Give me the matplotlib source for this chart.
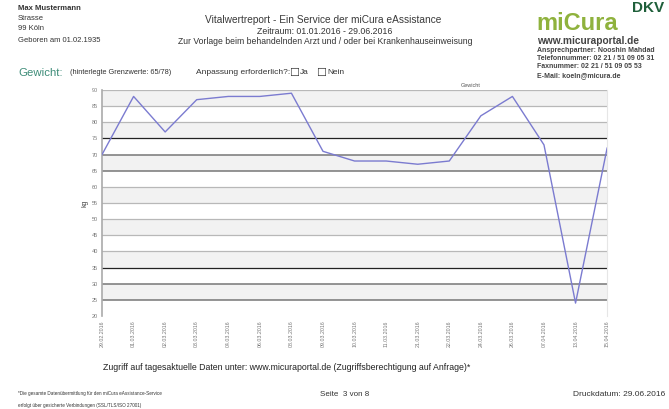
import matplotlib.pyplot as plt

plt.rcParams['font.family'] = ['Liberation Sans', 'DejaVu Sans']

# data
dates = ['29.02.2016', '01.03.2016', '02.03.2016', '03.03.2016', '04.03.2016',
         '06.03.2016', '08.03.2016', '09.03.2016', '10.03.2016', '11.03.2016',
         '21.03.2016', '22.03.2016', '24.03.2016', '26.03.2016', '07.04.2016',
         '13.04.2016', '15.04.2016']
weight = [70, 88, 77, 87, 88, 88, 89, 71, 68, 68, 67, 68, 82, 88, 73, 24, 72]
y_ticks = list(range(20, 91, 5))
dark_lines = [75, 35]
mid_lines = [70, 65, 30, 25]

fig = plt.figure(figsize=(6.69, 4.09), dpi=100)
ax = fig.add_axes([0.1525, 0.2274, 0.755, 0.5526])

# header, left
grey = '#333333'
fig.text(18 / 669, 1 - 8 / 409, 'Max Mustermann', fontsize=5.5, weight='bold', color=grey, va='center')
fig.text(18 / 669, 1 - 19 / 409, 'Strasse', fontsize=5.5, color=grey, va='center')
fig.text(18 / 669, 1 - 29 / 409, '99 Köln', fontsize=5.5, color=grey, va='center')
fig.text(18 / 669, 1 - 40 / 409, 'Geboren am 01.02.1935', fontsize=5.5, color=grey, va='center')

# header, centre
fig.text(323 / 669, 1 - 20 / 409, 'Vitalwertreport - Ein Service der miCura eAssistance',
         fontsize=7.3, color='#3a3a3a', ha='center', va='center')
fig.text(325 / 669, 1 - 31 / 409, 'Zeitraum: 01.01.2016 - 29.06.2016',
         fontsize=6.3, color=grey, ha='center', va='center')
fig.text(325 / 669, 1 - 42 / 409,
         'Zur Vorlage beim behandelnden Arzt und / oder bei Krankenhauseinweisung',
         fontsize=6.2, color=grey, ha='center', va='center')

# header, right (logo + contact)
fig.text(664 / 669, 1 - 8 / 409, 'DKV', fontsize=11, weight='bold', color='#1f5f3a',
         ha='right', va='center')
fig.text(536 / 669, 1 - 24 / 409, 'miCura', fontsize=17, weight='bold', color='#8fb23d', va='center')
fig.text(537 / 669, 1 - 41 / 409, 'www.micuraportal.de', fontsize=7.3, weight='bold',
         color='#444444', va='center')
contact = ['Ansprechpartner: Nooshin Mahdad', 'Telefonnummer: 02 21 / 51 09 05 31',
           'Faxnummer: 02 21 / 51 09 05 53', 'E-Mail: koeln@micura.de']
for i, line in enumerate(contact):
    fig.text(537 / 669, 1 - (50 + i * 8.5) / 409, line, fontsize=5, weight='bold',
             color='#444444', va='center')

# section line
fig.text(18 / 669, 1 - 73 / 409, 'Gewicht:', fontsize=8.2, color='#3d8c78', va='center')
fig.text(70 / 669, 1 - 73 / 409, '(hinterlegte Grenzwerte: 65/78)', fontsize=5.3,
         color=grey, va='center')
fig.text(196 / 669, 1 - 73 / 409, 'Anpassung erforderlich?:', fontsize=6,
         color=grey, va='center')
fig.text(289 / 669, 1 - 73 / 409, '\u2610', fontsize=8, color=grey, va='center',
         family=['DejaVu Sans'])
fig.text(300 / 669, 1 - 73 / 409, 'Ja', fontsize=6, color=grey, va='center')
fig.text(316 / 669, 1 - 73 / 409, '\u2610', fontsize=8, color=grey, va='center',
         family=['DejaVu Sans'])
fig.text(327 / 669, 1 - 73 / 409, 'Nein', fontsize=6, color=grey, va='center')

# chart
x = list(range(len(weight)))
for i, lo in enumerate(range(20, 90, 5)):
    if i % 2 == 1:
        ax.axhspan(lo, lo + 5, color='#f2f2f2', lw=0, zorder=0)
for v in y_ticks:
    if v in dark_lines:
        c, lw = '#222222', 0.9
    elif v in mid_lines:
        c, lw = '#777777', 1.1
    else:
        c, lw = '#b8b8b8', 0.9
    if v != 20:
        ax.axhline(v, color=c, lw=lw, zorder=1)
ax.plot(x, weight, color='#7b7bd0', lw=1.0, zorder=3)

ax.set_xlim(0, len(weight) - 1)
ax.set_ylim(20, 90)
ax.set_yticks(y_ticks)
ax.set_yticklabels([str(v) for v in y_ticks], fontsize=4, color='#777777')
ax.set_xticks(x)
ax.set_xticklabels(dates, rotation=90, fontsize=3.8, color='#777777')
ax.tick_params(axis='both', length=0, pad=3)
for side in ['top', 'bottom']:
    ax.spines[side].set_visible(False)
ax.spines['right'].set_color('#e6e6e6')
ax.spines['left'].set_color('#aaaaaa')
ax.spines['left'].set_linewidth(1.2)
ax.set_ylabel('kg', fontsize=5, color='#444444', labelpad=2)
ax.set_title('Gewicht', fontsize=4, color='#555555', pad=2, x=0.73)

# below chart and footer
fig.text(287 / 669, 1 - 367 / 409,
         'Zugriff auf tagesaktuelle Daten unter: www.micuraportal.de (Zugriffsberechtigung auf Anfrage)*',
         fontsize=6.3, color='#222222', ha='center', va='center')
fig.text(18 / 669, 1 - 394 / 409,
         '*Die gesamte Datenübermittlung für den miCura eAssistance-Service',
         fontsize=3.3, color=grey, va='center')
fig.text(18 / 669, 1 - 405 / 409,
         'erfolgt über gesicherte Verbindungen (SSL/TLS/ISO 27001)',
         fontsize=3.3, color=grey, va='center')
fig.text(320 / 669, 1 - 395 / 409, 'Seite  3 von 8', fontsize=5.8, color=grey, va='center')
fig.text(665 / 669, 1 - 395 / 409, 'Druckdatum: 29.06.2016', fontsize=6, color=grey,
         ha='right', va='center')

fig.savefig('out.png', dpi=100)
